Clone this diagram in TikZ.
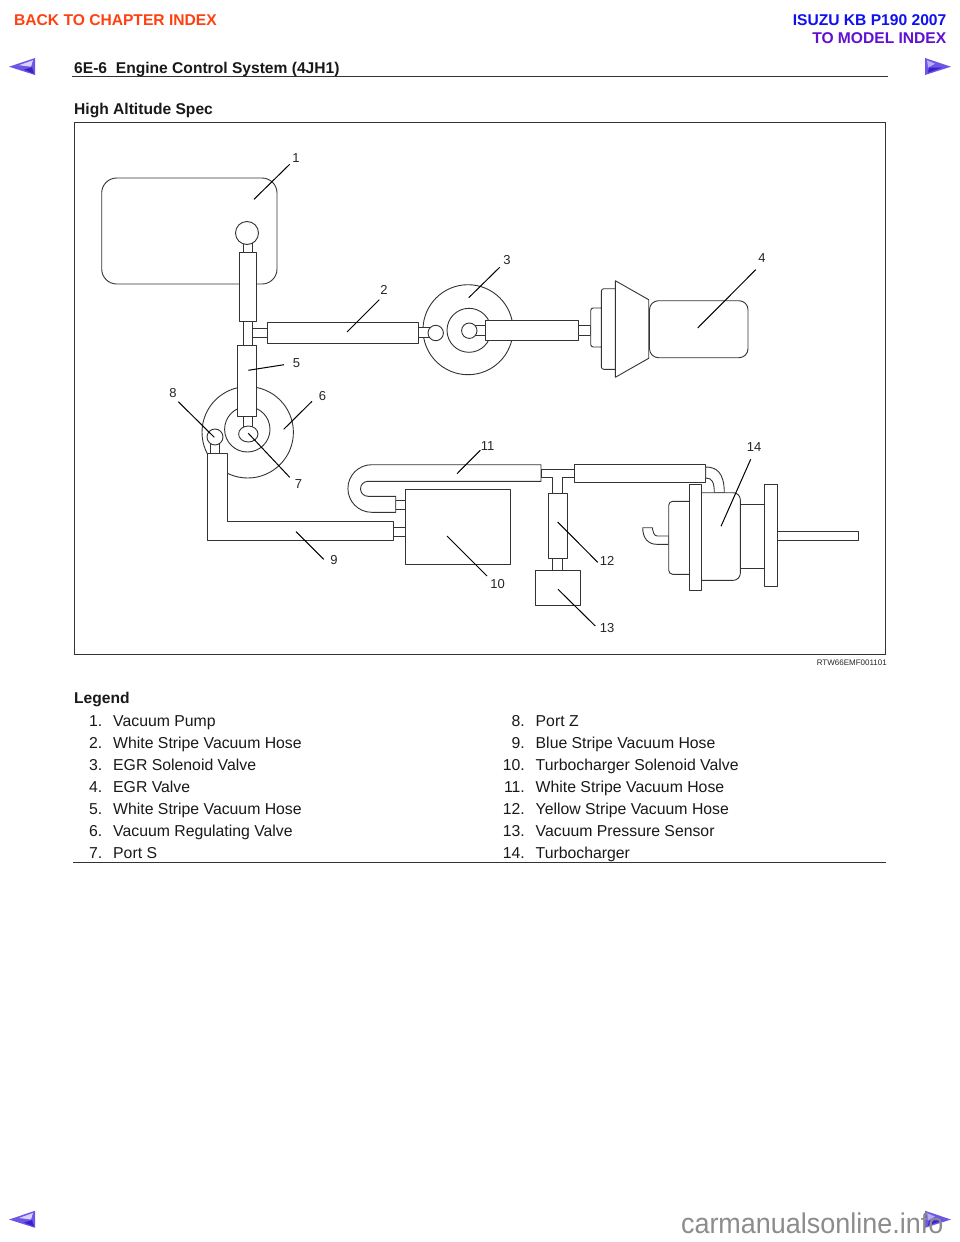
\documentclass[tikz,border=0pt]{standalone}
\usepackage{fontspec}
\setmainfont{Liberation Sans}
\definecolor{linegray}{HTML}{333333}
\definecolor{navmid}{HTML}{6F55E6}
\definecolor{navdark}{HTML}{3A20C8}
\definecolor{navlight}{HTML}{DAD2FA}
\definecolor{backred}{HTML}{FF4010}
\definecolor{isuzublue}{HTML}{1010F0}
\definecolor{modelpurple}{HTML}{6010D0}
\tikzset{
  part/.style={draw=linegray,line width=0.9pt,fill=white,line join=round},
  leaderline/.style={draw=black,line width=1pt},
  numlabel/.style={inner sep=0pt,font=\fontsize{13}{13}\selectfont,text=black!85},
  bodytext/.style={inner sep=0pt,anchor=base west,font=\fontsize{15.8}{16}\selectfont,text=black!90},
  bodynum/.style={inner sep=0pt,anchor=base east,font=\fontsize{15.8}{16}\selectfont,text=black!90},
  headtext/.style={inner sep=0pt,font=\fontsize{15.6}{16}\selectfont\bfseries},
  rulel/.style={draw=black!80,line width=1.5pt}
}
\newcommand{\callout}[7]{% name, text, lx, ly, fromx, fromy, to
  \node[numlabel] (n#1) at (#3,#4) {#2};
  \coordinate (f#1) at (#5,#6);
  \coordinate (t#1) at #7;
  \draw[leaderline] (f#1) -- (t#1);
}
\newcommand{\legendrow}[5]{% y,numL,textL,numR,textR
  \node[bodynum] (ln#2) at (102.5,#1) {#2.};
  \node[bodytext] (lt#2) at (113,#1) {#3};
  \node[bodynum] (ln#4) at (525,#1) {#4.};
  \node[bodytext] (lt#4) at (535.5,#1) {#5};
}
\newcommand{\navleft}[2]{%
  \begin{scope}[shift={(#1,#2)}]
    \fill[navmid] (9,0) -- (35,-8.7) -- (35,8.3) -- cycle;
    \fill[navlight] (19,-1.5) -- (33,-6.5) -- (31,0) -- cycle;
    \fill[navdark] (24,3) -- (32,0.5) -- (34,7) -- cycle;
  \end{scope}}
\newcommand{\navright}[2]{%
  \begin{scope}[shift={(#1,#2)}]
    \fill[navmid] (951,0) -- (925,-8.7) -- (925,8.3) -- cycle;
    \fill[navlight!70!navmid] (927,-6.5) -- (935,-3) -- (928,1) -- cycle;
    \fill[navdark] (928,6) -- (929,1) -- (942,1) -- cycle;
  \end{scope}}
\begin{document}
\begin{tikzpicture}[x=1pt,y=-1pt]
\useasboundingbox (0,0) rectangle (960,1242);
\fill[white] (0,0) rectangle (960,1242);
% Header
\node[headtext,text=backred,anchor=base west] (back) at (14,25.5) {BACK TO CHAPTER INDEX};
\node[headtext,text=isuzublue,anchor=base east] (isuzu) at (946.5,25.5) {ISUZU KB P190 2007};
\node[headtext,text=modelpurple,anchor=base east] (model) at (946.5,43.5) {TO MODEL INDEX};
\node[headtext,text=black!90,anchor=base west] (chap) at (74,73) {6E-6\hspace{4.4pt} Engine Control System (4JH1)};
\draw[rulel] (72,76.5) -- (888,76.5);
\node[headtext,text=black!90,anchor=base west] (high) at (74,114.8) {High Altitude Spec};
\navleft{0}{66.7}
\navright{0}{66.7}
\navleft{0}{1219.5}
\navright{0}{1219.5}
% Frame
\draw[draw=linegray,line width=1pt] (74.5,122) rectangle (885.5,654.5);
\node[inner sep=0pt,anchor=base east,font=\fontsize{8}{8}\selectfont,text=black!85] (code) at (887,665) {RTW66EMF001101};
% Vacuum pump
\draw[part,rounded corners=15pt] (101.7,178) rectangle (277,284);
\draw[part] (243.3,240) rectangle (252.7,254);
\draw[part] (247,233) circle (11.5);
\draw[part] (239,252.7) rectangle (256.3,321.3);
% T to hoses
\draw[part] (243.5,321.3) rectangle (252.5,345.7);
\draw[part] (252.5,328.3) rectangle (267,337.3);
\draw[part] (267,322) rectangle (418.7,343.3);
% EGR solenoid valve
\draw[part] (468,329.7) circle (45);
\draw[part] (469,330.3) circle (22);
\draw[part] (470,325.3) rectangle (485.7,335.7);
\draw[part] (469.3,330.7) circle (7.7);
\draw[part] (418.7,327.7) rectangle (432,337.7);
\draw[part] (435.7,333) circle (7.7);
\draw[part] (485.7,320.7) rectangle (578,340.3);
\draw[part] (578,325.3) rectangle (590.7,335.7);
% EGR valve
\draw[part,rounded corners=2.5pt] (590.7,308) rectangle (603,347);
\draw[part,rounded corners=2.5pt] (601.3,288.7) rectangle (618,369.3);
\draw[part] (615.3,280.7) -- (648.7,299.7) -- (648.7,358.3) -- (615.3,377.3) -- cycle;
\draw[part,rounded corners=9pt] (649.5,300.7) rectangle (748,357.7);
% Vacuum regulating valve
\draw[part] (247.7,432.3) circle (45.7);
\draw[part] (247.3,429.3) circle (22.7);
\draw[part] (243.3,416) rectangle (252.3,428);
\draw[part] (248.3,434) ellipse (9.7 and 8);
\draw[part] (237.7,345.7) rectangle (256.3,416);
\draw[part] (210.3,440) rectangle (219.3,453.3);
\draw[part] (215,437) circle (8);
% Blue hose
\draw[part] (207.3,453.3) -- (227,453.3) -- (227,521.3) -- (393.7,521.3) -- (393.7,540) -- (207.3,540) -- cycle;
\draw[part] (393.7,527) rectangle (405.3,536.3);
% Box 10
\draw[part] (405.3,489.3) rectangle (510.7,564.3);
% U hose
\draw[part] (395.7,500.3) rectangle (405.3,509.3);
\draw[part] (541,464.7) -- (371.7,464.7) arc[start angle=-90,end angle=-270,radius=23.8] -- (395.7,512.3) -- (395.7,496.3) -- (368,496.3) arc[start angle=90,end angle=270,radius=7.5] -- (541,481.3) -- cycle;
% T-piece
\draw[part,fill=white] (541,469) -- (574.3,469) -- (574.3,477.7) -- (562,477.7) -- (562,493.7) -- (552.7,493.7) -- (552.7,477.7) -- (541,477.7) -- cycle;
\draw[part] (574.3,464.7) rectangle (705.7,482.3);
\draw[part] (548.7,493.7) rectangle (567.3,558.3);
\draw[part] (552.7,558.3) rectangle (562.3,570.7);
\draw[part] (535.3,570.7) rectangle (580,605.7);
% Turbocharger
\draw[part] (705.7,467) .. controls (716,467) and (724.3,472) .. (724.3,492.7) -- (714.3,492.7) .. controls (714.3,482) and (712,478) .. (705.7,478) -- cycle;
\draw[part] (668.7,536) -- (657.3,536) .. controls (654,536) and (653,532) .. (652.3,527.7) -- (642.7,527.7) .. controls (642.7,538) and (648,544.3) .. (656.7,544.3) -- (668.7,544.3) -- cycle;
\draw[part,rounded corners=4pt] (695,501.3) -- (668.7,501.3) -- (668.7,574.3) -- (695,574.3);
\draw[part,rounded corners=7pt] (695,492.7) -- (740.3,492.7) -- (740.3,580.3) -- (695,580.3);
\draw[part] (689.3,484.3) rectangle (701.3,590.3);
\draw[part] (740.3,504.3) -- (764.7,504.3);
\draw[part] (740.3,568.3) -- (764.7,568.3);
\draw[part] (764.7,484.3) rectangle (777,586.7);
\draw[part] (777,531) rectangle (858.3,540.3);
% Callouts
\callout{1}{1}{296}{158}{289.7}{164.3}{(254,199.3)}
\callout{2}{2}{384}{289.5}{379.3}{299.7}{(347,332)}
\callout{3}{3}{507}{260}{499.7}{267.3}{(468.7,297.7)}
\callout{4}{4}{762}{258.5}{755.7}{269.7}{(697.7,328)}
\callout{5}{5}{296.5}{363.5}{284}{364.7}{(248.3,370.3)}
\callout{6}{6}{322.5}{396}{312}{401.3}{(283.7,429.3)}
\callout{7}{7}{298.5}{484}{289.7}{477.3}{(248.3,433.3)}
\callout{8}{8}{173}{393}{178.3}{401.7}{(214.3,437.3)}
\callout{9}{9}{334}{560}{323.7}{559.3}{(296,531.7)}
\callout{10}{10}{497.5}{584}{487}{576}{(447,536)}
\callout{11}{11}{487.5}{446}{480.3}{450.3}{(457,473.7)}
\callout{12}{12}{607}{560.5}{597.7}{562.3}{(557.7,522)}
\callout{13}{13}{607}{628}{595.3}{626}{(558,589.3)}
\callout{14}{14}{754}{447.5}{750.7}{459.3}{(721,526.3)}
% Legend
\node[headtext,text=black!90,anchor=base west] (legend) at (74,703.8) {Legend};
\legendrow{726}{1}{Vacuum Pump}{8}{Port Z}
\legendrow{748}{2}{White Stripe Vacuum Hose}{9}{Blue Stripe Vacuum Hose}
\legendrow{770}{3}{EGR Solenoid Valve}{10}{Turbocharger Solenoid Valve}
\legendrow{792}{4}{EGR Valve}{11}{White Stripe Vacuum Hose}
\legendrow{814}{5}{White Stripe Vacuum Hose}{12}{Yellow Stripe Vacuum Hose}
\legendrow{836}{6}{Vacuum Regulating Valve}{13}{Vacuum Pressure Sensor}
\legendrow{858}{7}{Port S}{14}{Turbocharger}
\draw[rulel] (73,862.5) -- (886,862.5);
% Watermark
\node[inner sep=0pt,anchor=base east,font=\fontsize{28.5}{28.5}\selectfont,text=black!45,xscale=0.946] (mark) at (943.5,1233) {carmanualsonline.info};
\end{tikzpicture}
\end{document}
